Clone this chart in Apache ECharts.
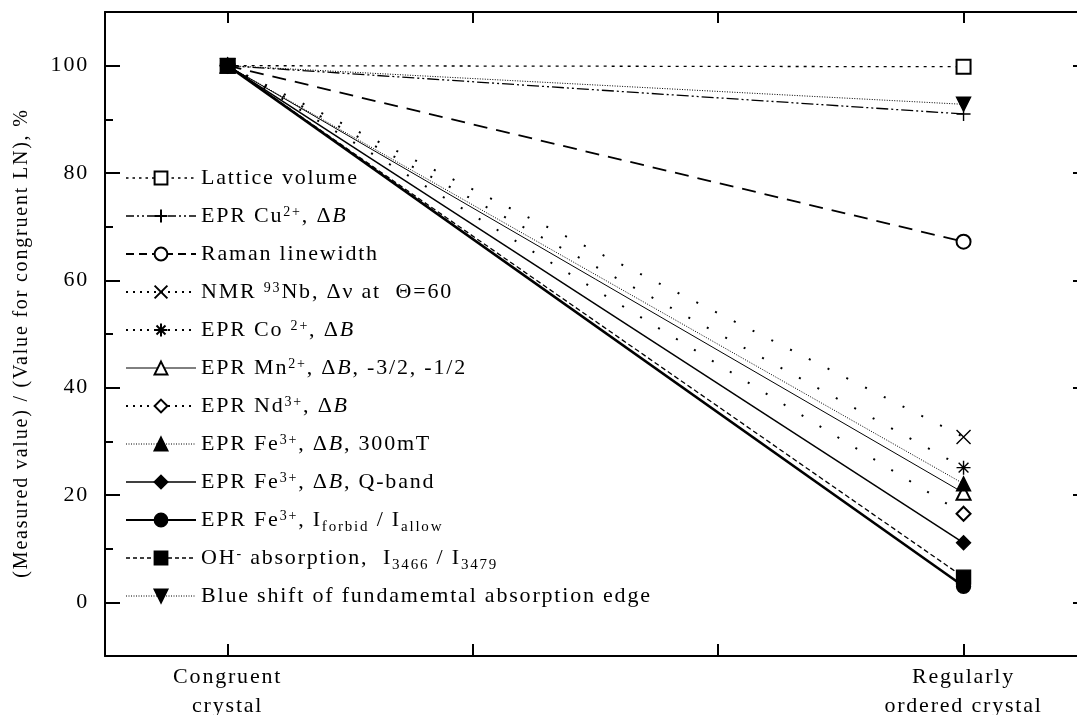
<!DOCTYPE html>
<html>
<head>
<meta charset="UTF-8" />
<title>Measured value relative to congruent LN</title>
<script src="https://cdn.jsdelivr.net/npm/echarts@6/dist/echarts.min.js"></script>
<style>
  html, body { margin: 0; padding: 0; background: #fff; }
  #chart { width: 1077px; height: 715px; }
</style>
</head>
<body>
<div id="chart"></div>
<script>
  // x positions of the two crystals and their labels
  const categoryX = [1, 4];
  const categories = ['Congruent\ncrystal', 'Regularly\nordered crystal'];
  const xTicks = [1, 2, 3, 4];
  const yTickLabels = [0, 20, 40, 60, 80, 100];
  const yMinorTicks = [10, 30, 50, 70, 90];

  // (measured / congruent) %, congruent -> regularly ordered
  const latticeVolume = [100, 99.8];
  const eprCu = [100, 91];
  const ramanLinewidth = [100, 67.2];
  const nmrNb = [100, 30.8];
  const eprCo = [100, 25.1];
  const eprMn = [100, 20.4];
  const eprNd = [100, 16.5];
  const eprFe300 = [100, 22.1];
  const eprFeQ = [100, 11.1];
  const eprFeInt = [100, 3];
  const ohAbs = [100, 4.7];
  const blueShift = [100, 92.8];

  const FONT = "'Liberation Serif', 'Times New Roman', serif";

  // the original plot uses letter-spaced text; apply it to drawing and measuring alike
  const SPACING = '1.8px';
  const ctxProto = CanvasRenderingContext2D.prototype;
  const fillTextOrig = ctxProto.fillText;
  const measureTextOrig = ctxProto.measureText;
  ctxProto.fillText = function () { this.letterSpacing = SPACING; return fillTextOrig.apply(this, arguments); };
  ctxProto.measureText = function () { this.letterSpacing = SPACING; return measureTextOrig.apply(this, arguments); };

  const pts = vals => vals.map((v, i) => [categoryX[i], v]);

  // name, data, symbol, line type, line width, legend line type, rich legend text
  const defs = [
    ['Lattice volume', latticeVolume, 'emptyRect', [3, 5], 1.3, [2.5, 4], 'Lattice volume'],
    ['EPR Cu2+', eprCu, 'path://M0,5L10,5M5,0L5,10', [12, 3, 2, 3, 2, 3], 1.3, [8, 3, 2, 3, 2, 3], 'EPR Cu{sup|2+}, Δ{it|B}'],
    ['Raman linewidth', ramanLinewidth, 'emptyCircle', [14, 9], 1.8, [8, 5], 'Raman linewidth'],
    ['NMR 93Nb', nmrNb, 'path://M0,0L10,10M10,0L0,10', [2, 19], 2, [2, 5], 'NMR {sup|93}Nb, Δν at  Θ=60'],
    ['EPR Co2+', eprCo, 'path://M5,0L5,10M0,5L10,5M1.5,1.5L8.5,8.5M8.5,1.5L1.5,8.5', [2, 19], 2, [2, 5], 'EPR Co {sup|2+}, Δ{it|B}'],
    ['EPR Mn2+', eprMn, 'emptyTriangle', 'solid', 1, 'solid', 'EPR Mn{sup|2+}, Δ{it|B}, -3/2, -1/2'],
    ['EPR Nd3+', eprNd, 'emptyDiamond', [2, 19], 2, [2, 5], 'EPR Nd{sup|3+}, Δ{it|B}'],
    ['EPR Fe3+ 300mT', eprFe300, 'triangle', [1, 1.5], 1, [1, 1.5], 'EPR Fe{sup|3+}, Δ{it|B}, 300mT'],
    ['EPR Fe3+ Q-band', eprFeQ, 'diamond', 'solid', 1.5, 'solid', 'EPR Fe{sup|3+}, Δ{it|B}, Q-band'],
    ['EPR Fe3+ I', eprFeInt, 'circle', 'solid', 2.6, 'solid', 'EPR Fe{sup|3+}, I{sub|forbid} / I{sub|allow}'],
    ['OH- absorption', ohAbs, 'rect', [5, 3], 1.3, [4, 3], 'OH{sup|-} absorption,  I{sub|3466} / I{sub|3479}'],
    ['Blue shift', blueShift, 'triangle', [1, 1.5], 1, [1, 1.5], 'Blue shift of fundamemtal absorption edge']
  ];

  const legendText = {};
  defs.forEach(d => { legendText[d[0]] = d[6]; });

  const series = defs.map(d => ({
    name: d[0],
    type: 'line',
    xAxisIndex: 0,
    yAxisIndex: 0,
    data: pts(d[1]),
    symbol: d[2],
    symbolSize: 14,
    symbolRotate: d[0] === 'Blue shift' ? 180 : 0,
    showAllSymbol: true,
    lineStyle: { color: '#000', width: d[4], type: d[3] },
    itemStyle: { color: '#000', borderColor: '#000', borderWidth: 1.4 },
    emphasis: { disabled: true }
  }));

  const legendData = defs.map(d => ({
    name: d[0],
    lineStyle: { color: '#000', width: Math.min(d[4], 2), type: d[5] }
  }));

  const richBase = { fontFamily: FONT, color: '#000' };
  const frameLine = { show: true, onZero: false, lineStyle: { color: '#000', width: 2 } };
  const tickLine = { color: '#000', width: 2 };

  const chart = echarts.init(document.getElementById('chart'));
  chart.setOption({
    animation: false,
    backgroundColor: '#fff',
    grid: { left: 105, right: 0, top: 12, bottom: 59, outerBoundsMode: 'none' },
    legend: {
      orient: 'vertical',
      left: 125,
      top: 163,
      padding: 0,
      itemGap: 8,
      itemWidth: 70,
      itemHeight: 16,
      selectedMode: false,
      data: legendData,
      formatter: name => legendText[name],
      textStyle: {
        fontFamily: FONT, fontSize: 22, lineHeight: 30, color: '#000',
        rich: {
          sup: Object.assign({ fontSize: 14, lineHeight: 14, verticalAlign: 'top', padding: [3, 0, 0, 0] }, richBase),
          // short line box pushes the subscript further down
          sub: Object.assign({ fontSize: 15, lineHeight: 10, verticalAlign: 'bottom' }, richBase),
          it: Object.assign({ fontSize: 22, lineHeight: 30, fontStyle: 'italic' }, richBase)
        }
      }
    },
    xAxis: [
      {
        // right frame lies just past the window edge (x = 4.5)
        type: 'value', position: 'bottom', min: 0.5, max: 4.4625,
        axisLine: frameLine,
        splitLine: { show: false },
        axisTick: { show: true, inside: true, length: 12, customValues: xTicks, lineStyle: tickLine },
        axisLabel: {
          customValues: categoryX,
          formatter: v => categories[categoryX.indexOf(v)] || '',
          fontFamily: FONT, fontSize: 22, lineHeight: 29, color: '#000', margin: 7
        }
      },
      {
        type: 'value', position: 'top', min: 0.5, max: 4.4625,
        axisLine: frameLine,
        splitLine: { show: false },
        axisTick: { show: true, inside: true, length: 11, customValues: xTicks, lineStyle: tickLine },
        axisLabel: { show: false }
      }
    ],
    yAxis: [
      {
        type: 'value', position: 'left', min: -10, max: 110,
        axisLine: frameLine,
        splitLine: { show: false },
        axisTick: { show: true, inside: true, length: 15, customValues: yTickLabels, lineStyle: tickLine },
        axisLabel: {
          customValues: yTickLabels,
          fontFamily: FONT, fontSize: 22, color: '#000', margin: 16
        },
        name: '(Measured value) / (Value for congruent LN), %',
        nameLocation: 'middle',
        nameGap: 72,
        nameTextStyle: { fontFamily: FONT, fontSize: 20, color: '#000', padding: [0, 18, 0, 0] }
      },
      {
        type: 'value', position: 'left', min: -10, max: 110,
        axisLine: { show: false },
        splitLine: { show: false },
        axisTick: { show: true, inside: true, length: 8, customValues: yMinorTicks, lineStyle: tickLine },
        axisLabel: { show: false }
      },
      {
        // only the tips of the right-hand major ticks are inside the window
        type: 'value', position: 'right', min: -10, max: 110,
        axisLine: { show: false },
        splitLine: { show: false },
        axisTick: { show: true, inside: true, length: 4, customValues: yTickLabels, lineStyle: tickLine },
        axisLabel: { show: false }
      }
    ],
    series: series
  });
</script>
</body>
</html>
